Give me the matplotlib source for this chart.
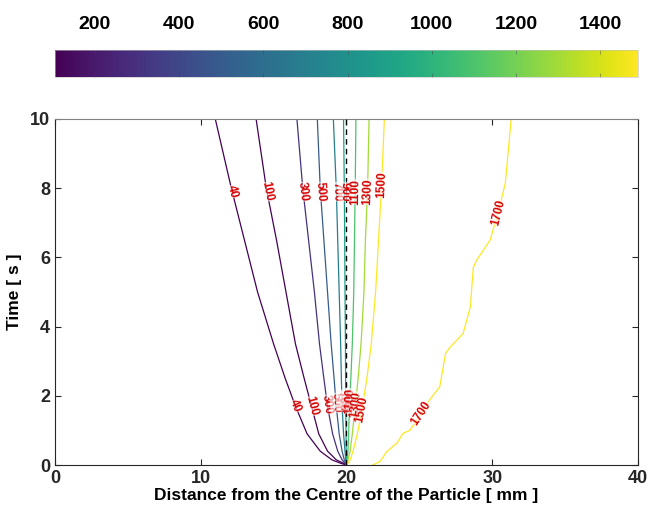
import numpy as np
import matplotlib
matplotlib.use("Agg")
import matplotlib.pyplot as plt
from matplotlib import cm, colors

plt.rcParams['font.family'] = ['Liberation Sans', 'DejaVu Sans']

#<====== contour lines ======>
levels = [40, 100, 300, 500, 700, 900, 1100, 1300, 1500]
times = [0, 0.05, 0.15, 0.4, 0.9, 1.7, 2.5, 3.5, 5, 6.5, 8, 10]
x_40 = [20, 19.6, 19.0, 18.2, 17.3, 16.5, 15.8, 15.0, 13.9, 13.0, 12.1, 11.0]
x_100 = [20, 19.8, 19.3, 18.7, 18.1, 17.6, 17.1, 16.5, 15.85, 15.2, 14.5, 13.8]
x_300 = [20, 19.9, 19.7, 19.4, 19.05, 18.7, 18.45, 18.15, 17.8, 17.4, 17.0, 16.6]
x_500 = [20, 19.95, 19.85, 19.7, 19.5, 19.3, 19.15, 18.95, 18.7, 18.45, 18.2, 18.0]
x_700 = [20, 20, 19.95, 19.9, 19.8, 19.7, 19.65, 19.6, 19.5, 19.4, 19.3, 19.1]
x_900 = [20, 20, 20, 19.98, 19.97, 19.95, 19.94, 19.93, 19.9, 19.88, 19.85, 19.8]
x_1100 = [20, 20.02, 20.05, 20.1, 20.15, 20.2, 20.3, 20.4, 20.5, 20.55, 20.6, 20.65]
x_1300 = [20, 20.05, 20.1, 20.25, 20.4, 20.6, 20.8, 21.0, 21.2, 21.3, 21.45, 21.55]
x_1500 = [20, 20.1, 20.25, 20.45, 20.75, 21.1, 21.4, 21.7, 22.0, 22.2, 22.4, 22.6]

# the 1700 line has its own time points
t_1700 = [0, 0.1, 0.38, 0.63, 0.92, 1.0, 1.54, 1.88, 2.26, 3.23, 3.4, 3.8,
          4.57, 5.7, 5.9, 6.5, 7.28, 8.15, 10]
x_1700 = [21.8, 22.3, 22.75, 23.45, 23.9, 24.35, 25.2, 25.7, 26.4, 26.8, 27.1,
          28.0, 28.5, 28.7, 28.9, 29.85, 30.4, 30.9, 31.3]

# times where the labels sit (upper row, lower row)
label_t_upper = [7.9, 7.9, 7.9, 7.9, 7.9, 7.9, 7.9, 7.9, 8.1, 7.3]
label_t_lower = [1.7, 1.7, 1.75, 1.8, 1.85, 1.9, 1.85, 1.75, 1.6, 1.5]

particle_edge = 20
cbar_ticks = [200, 400, 600, 800, 1000, 1200, 1400]

#<====== figure ======>
fig = plt.figure(figsize=(6.49, 5.14), dpi=100)
ax = fig.add_axes([0.0847, 0.0953, 0.8983, 0.6732])
cax = fig.add_axes([0.0847, 0.850, 0.8983, 0.0525])

norm = colors.Normalize(vmin=105, vmax=1490)
cmap = plt.get_cmap('viridis')

all_x = [x_40, x_100, x_300, x_500, x_700, x_900, x_1100, x_1300, x_1500, x_1700]
all_t = [times] * 9 + [t_1700]
all_lv = levels + [1700]

ax.set_xlim(0, 40)
ax.set_ylim(0, 10)

for xs, ts, lv in zip(all_x, all_t, all_lv):
    ax.plot(xs, ts, color=cmap(norm(lv)), lw=0.9, zorder=2)

ax.plot([particle_edge, particle_edge], [0, 10], color='black', lw=1,
        linestyle=(0, (4, 3)), zorder=3)


def put_label(xs, ts, t0, text):
    xl = np.interp(t0, ts, xs)
    p = ax.transData.transform(np.column_stack([xs, ts]))
    i = np.searchsorted(ts, t0)
    i = min(max(i, 1), len(ts) - 1)
    dx, dy = p[i] - p[i - 1]
    ang = np.degrees(np.arctan2(dy, dx))
    if ang > 90:
        ang -= 180
    if ang <= -90:
        ang += 180
    ax.text(xl, t0, text, color='#d80000', fontsize=8.5, fontweight='bold',
            rotation=ang, rotation_mode='anchor', ha='center', va='center',
            zorder=4, bbox=dict(facecolor='white', edgecolor='none', pad=0.0,
                                alpha=0.6))


for xs, ts, lv, tu, tl in zip(all_x, all_t, all_lv, label_t_upper, label_t_lower):
    put_label(xs, ts, tu, str(lv))
    put_label(xs, ts, tl, str(lv))

ax.set_xticks([0, 10, 20, 30, 40])
ax.set_yticks([0, 2, 4, 6, 8, 10])
ax.tick_params(direction='in', top=True, right=True, length=4, width=0.8,
               labelsize=13, colors='#262626')
for lab in ax.get_xticklabels() + ax.get_yticklabels():
    lab.set_fontweight('bold')
for s in ax.spines.values():
    s.set_color('#262626')
    s.set_linewidth(0.8)
ax.spines['top'].set_color('#808080')

ax.set_xlabel('Distance from the Centre of the Particle [ mm ]', fontsize=12.5,
              fontweight='bold', labelpad=1)
ax.set_ylabel('Time [ s ]', fontsize=12.5, fontweight='bold', labelpad=6)

#<====== colour bar ======>
sm = cm.ScalarMappable(norm=norm, cmap=cmap)
cb = fig.colorbar(sm, cax=cax, orientation='horizontal')
cb.set_ticks(cbar_ticks)
cax.xaxis.set_ticks_position('both')
cax.xaxis.set_label_position('top')
cax.tick_params(direction='in', length=3, width=0.6, color='#404040',
                labeltop=True, labelbottom=False, labelsize=14, pad=12)
for t in cax.xaxis.get_ticklines():
    t.set_alpha(0.5)
for lab in cax.get_xticklabels():
    lab.set_fontweight('bold')
cb.outline.set_linewidth(0.4)
cb.outline.set_edgecolor('#c0c0c0')

plt.savefig('out.png', dpi=100)
